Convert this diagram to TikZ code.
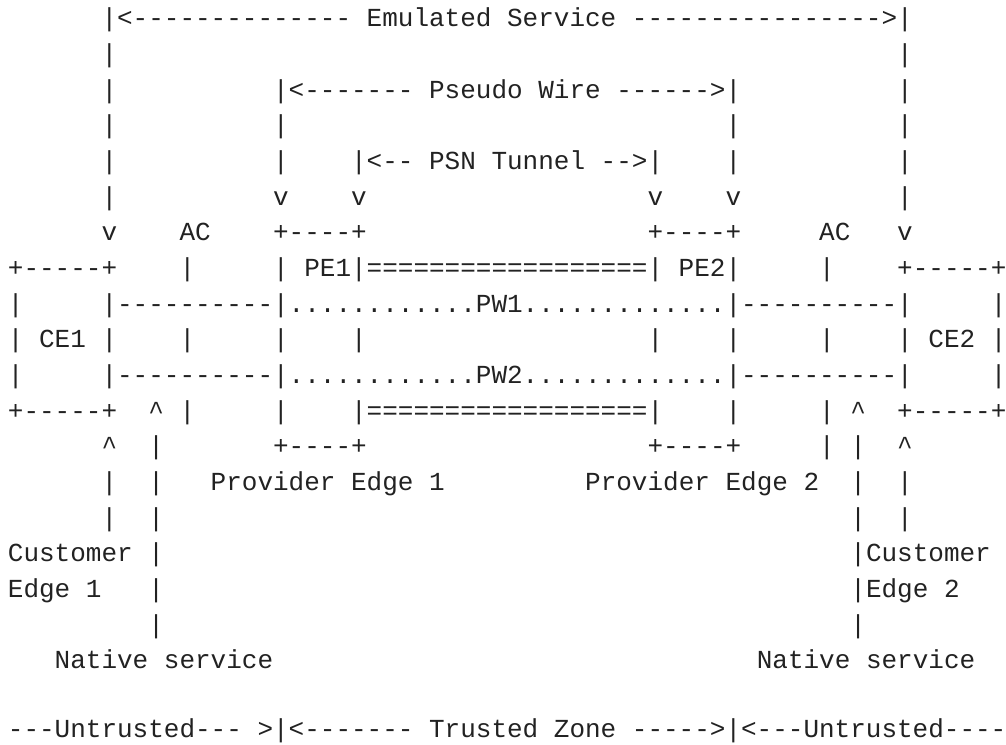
\documentclass[tikz,border=0pt]{standalone}
\usepackage{fontspec}
\newfontfamily\asciifont{Liberation Mono}
\definecolor{ink}{HTML}{222222}
\newlength\cw
\settowidth{\cw}{\asciifont\fontsize{26pt}{30pt}\selectfont x}
\newcommand\colgap[1]{\hspace*{#1\cw}}
\newcommand\caret{\textasciicircum}
\begin{document}
\begin{tikzpicture}[x=1pt,y=1pt,
  row/.style={anchor=base west, inner sep=0pt, outer sep=0pt, text=ink,
    font=\asciifont\fontsize{26pt}{30pt}\selectfont\frenchspacing}]
\fill[white] (0,0) rectangle (1006,-744);
\useasboundingbox (0,0) rectangle (1006,-744);
\node[row] (r0) at (7.9,-26.7) {\colgap{6}|<--------------\colgap{1}Emulated\colgap{1}Service\colgap{1}---------------->|};
\node[row] (r1) at (7.9,-62.38) {\colgap{6}|\colgap{50}|};
\node[row] (r2) at (7.9,-98.06) {\colgap{6}|\colgap{10}|<-------\colgap{1}Pseudo\colgap{1}Wire\colgap{1}------>|\colgap{10}|};
\node[row] (r3) at (7.9,-133.74) {\colgap{6}|\colgap{10}|\colgap{28}|\colgap{10}|};
\node[row] (r4) at (7.9,-169.42) {\colgap{6}|\colgap{10}|\colgap{4}|<--\colgap{1}PSN\colgap{1}Tunnel\colgap{1}-->|\colgap{4}|\colgap{10}|};
\node[row] (r5) at (7.9,-205.1) {\colgap{6}|\colgap{10}v\colgap{4}v\colgap{18}v\colgap{4}v\colgap{10}|};
\node[row] (r6) at (7.9,-240.78) {\colgap{6}v\colgap{4}AC\colgap{4}+----+\colgap{18}+----+\colgap{5}AC\colgap{3}v};
\node[row] (r7) at (7.9,-276.46) {+-----+\colgap{4}|\colgap{5}|\colgap{1}PE1|==================|\colgap{1}PE2|\colgap{5}|\colgap{4}+-----+};
\node[row] (r8) at (7.9,-312.14) {|\colgap{5}|----------|............PW1.............|----------|\colgap{5}|};
\node[row] (r9) at (7.9,-347.82) {|\colgap{1}CE1\colgap{1}|\colgap{4}|\colgap{5}|\colgap{4}|\colgap{18}|\colgap{4}|\colgap{5}|\colgap{4}|\colgap{1}CE2\colgap{1}|};
\node[row] (r10) at (7.9,-383.5) {|\colgap{5}|----------|............PW2.............|----------|\colgap{5}|};
\node[row] (r11) at (7.9,-419.18) {+-----+\colgap{2}\caret\colgap{1}|\colgap{5}|\colgap{4}|==================|\colgap{4}|\colgap{5}|\colgap{1}\caret\colgap{2}+-----+};
\node[row] (r12) at (7.9,-454.86) {\colgap{6}\caret\colgap{2}|\colgap{7}+----+\colgap{18}+----+\colgap{5}|\colgap{1}|\colgap{2}\caret};
\node[row] (r13) at (7.9,-490.54) {\colgap{6}|\colgap{2}|\colgap{3}Provider\colgap{1}Edge\colgap{1}1\colgap{9}Provider\colgap{1}Edge\colgap{1}2\colgap{2}|\colgap{2}|};
\node[row] (r14) at (7.9,-526.22) {\colgap{6}|\colgap{2}|\colgap{44}|\colgap{2}|};
\node[row] (r15) at (7.9,-561.9) {Customer\colgap{1}|\colgap{44}|Customer};
\node[row] (r16) at (7.9,-597.58) {Edge\colgap{1}1\colgap{3}|\colgap{44}|Edge\colgap{1}2};
\node[row] (r17) at (7.9,-633.26) {\colgap{9}|\colgap{44}|};
\node[row] (r18) at (7.9,-668.94) {\colgap{3}Native\colgap{1}service\colgap{31}Native\colgap{1}service};
\node[row] (r20) at (7.9,-737.7) {---Untrusted---\colgap{1}>|<-------\colgap{1}Trusted\colgap{1}Zone\colgap{1}----->|<---Untrusted----};
\end{tikzpicture}
\end{document}
